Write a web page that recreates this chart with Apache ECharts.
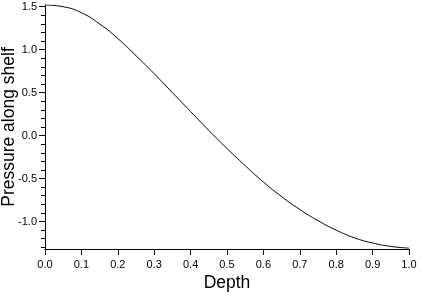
<!DOCTYPE html>
<html>
<head>
<meta charset="utf-8">
<script src="https://cdn.jsdelivr.net/npm/echarts@6/dist/echarts.min.js"></script>
<style>html,body{margin:0;padding:0;background:#fff}#c{width:427px;height:298px}</style>
</head>
<body>
<div id="c"></div>
<script>
var depth = [0.00,0.05,0.10,0.15,0.20,0.25,0.30,0.35,0.40,0.45,0.50,0.55,0.60,0.65,0.70,0.75,0.80,0.85,0.90,0.95,1.00];
var pressure = [1.52,1.50,1.43,1.30,1.13,0.93,0.72,0.50,0.28,0.06,-0.15,-0.35,-0.54,-0.71,-0.86,-0.99,-1.10,-1.19,-1.25,-1.29,-1.31];
var yMajor = [-1.0,-0.5,0.0,0.5,1.0,1.5];
var yMinor = [-1.3,-1.2,-1.1,-0.9,-0.8,-0.7,-0.6,-0.4,-0.3,-0.2,-0.1,0.1,0.2,0.3,0.4,0.6,0.7,0.8,0.9,1.1,1.2,1.3,1.4];

var FONT = 'Liberation Sans, Arial, Helvetica, sans-serif';
var chart = echarts.init(document.getElementById('c'), null, {renderer:'canvas'});
var yMin = -1.32, yMax = 1.52;
chart.setOption({
  animation: false,
  backgroundColor: '#fff',
  grid: {left: 45, right: 18, top: 5, bottom: 49, containLabel: false, outerBoundsMode: 'none'},
  xAxis: {
    type: 'value', min: 0, max: 1, interval: 0.1,
    name: 'Depth', nameLocation: 'middle', nameGap: 25, nameMoveOverlap: false,
    nameTextStyle: {fontFamily: FONT, fontSize: 17.5, color: '#000'},
    axisLine: {show: true, onZero: false, lineStyle: {color: '#000', width: 1}},
    axisTick: {show: true, inside: false, length: 6, lineStyle: {color: '#000'}},
    axisLabel: {fontFamily: FONT, fontSize: 11, color: '#000', margin: 10,
      formatter: function(v){ return v.toFixed(1); }},
    splitLine: {show: false}
  },
  yAxis: [{
    type: 'value', min: yMin, max: yMax,
    name: 'Pressure along shelf', nameLocation: 'middle', nameGap: 27, nameRotate: 90, nameMoveOverlap: false,
    nameTextStyle: {fontFamily: FONT, fontSize: 17.5, color: '#000'},
    axisLine: {show: true, onZero: false, lineStyle: {color: '#000', width: 1}},
    axisTick: {show: true, inside: false, length: 6, customValues: yMajor, lineStyle: {color: '#000'}},
    axisLabel: {fontFamily: FONT, fontSize: 11, color: '#000', margin: 8, customValues: yMajor,
      formatter: function(v){ return v.toFixed(1); }},
    splitLine: {show: false}
  }, {
    type: 'value', min: yMin, max: yMax, position: 'left', offset: 0,
    axisLine: {show: false},
    axisTick: {show: true, inside: false, length: 4, customValues: yMinor, lineStyle: {color: '#000'}},
    axisLabel: {show: false},
    splitLine: {show: false}
  }],
  series: [{
    type: 'line', yAxisIndex: 0, smooth: true, showSymbol: false,
    lineStyle: {color: '#000', width: 1},
    data: depth.map(function(d, i){ return [d, pressure[i]]; })
  }]
});
</script>
</body>
</html>
